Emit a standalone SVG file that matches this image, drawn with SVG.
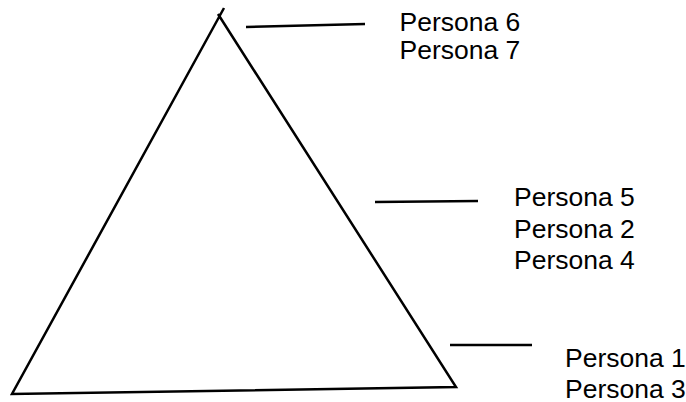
<svg xmlns="http://www.w3.org/2000/svg" width="686" height="402" viewBox="0 0 686 402">
<style>
.ln{stroke:#000;stroke-width:2.5;fill:none;stroke-linecap:butt}
.t{font-family:"Liberation Sans",Arial,sans-serif;font-size:26.5px;fill:#000}
</style>
<rect width="686" height="402" fill="#fff"/>
<g id="triangle">
<polyline class="ln" points="224,8 12,394 456,387 218,14" stroke-linejoin="miter"/>
</g>
<g id="connectors">
<line class="ln" x1="246" y1="27" x2="365" y2="24"/>
<line class="ln" x1="375" y1="202" x2="478" y2="201"/>
<line class="ln" x1="450" y1="345" x2="532" y2="345"/>
</g>
<g id="top-labels">
<text class="t" x="399.5" y="31">Persona 6</text>
<text class="t" x="399.5" y="59">Persona 7</text>
</g>
<g id="middle-labels">
<text class="t" x="514" y="206">Persona 5</text>
<text class="t" x="514" y="237.5">Persona 2</text>
<text class="t" x="514" y="269">Persona 4</text>
</g>
<g id="bottom-labels">
<text class="t" x="565" y="366.5">Persona 1</text>
<text class="t" x="565" y="397.5">Persona 3</text>
</g>
</svg>
